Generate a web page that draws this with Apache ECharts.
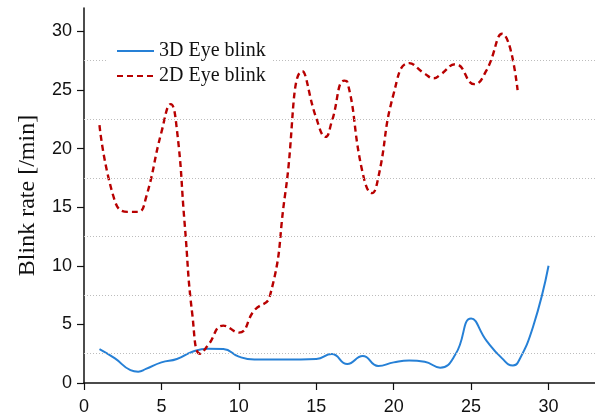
<!DOCTYPE html>
<html>
<head>
<meta charset="utf-8">
<script src="https://cdn.jsdelivr.net/npm/echarts@6/dist/echarts.min.js"></script>
<style>
  html, body { margin: 0; padding: 0; background: #fff; }
  #chart { width: 595px; height: 418px; }
</style>
</head>
<body>
<div id="chart"></div>
<script>
// Minutes of viewing (with the turning points of each curve)
const minutes3D = [1,2,3,3.5,4,5,6,7,8,9,10,11,12,13,14,15,16,17,18,19,20,21,22,23,24,25,26,27,27.7,28,29,30];
const minutes2D = [1,2,2.8,3.5,4,5,5.6,6,6.5,7,7.5,8,9,10,11,12,13,14.1,15,15.6,16,16.8,17,18,18.6,19,20,21,22,22.6,23,24,25.2,26,27,28];

// Blink rate per minute
const blink3D = [2.9,2.1,1.1,0.97,1.2,1.76,2.05,2.67,2.93,2.9,2.25,2.0,2.0,2.0,2.0,2.04,2.47,1.62,2.3,1.45,1.76,1.93,1.82,1.31,2.47,5.5,3.6,2.1,1.5,1.7,4.8,10];
const blink2D = [22.0,15.5,14.6,14.6,15.8,21.4,23.8,21.6,13.6,5.8,2.5,3.2,4.9,4.3,6.2,7.4,16.2,26.6,22.6,21.0,22.3,25.8,25.7,17.9,16.2,17.5,24.7,27.3,26.4,26.0,26.3,27.2,25.5,26.7,29.8,25.0];

// Axis ticks and dotted guide lines
const xTicks = [0,5,10,15,20,25,30];
const yTicks = [0,5,10,15,20,25,30];
const guideLines = [2.5,7.5,12.5,17.5,22.5,27.5];

const seriesNames = ['3D Eye blink', '2D Eye blink'];

const pairs = (xs, ys) => xs.map((x, i) => [x, ys[i]]);

const chart = echarts.init(document.getElementById('chart'), null, { renderer: 'canvas' });

const tickFont = { fontFamily: 'Liberation Sans, Arial, sans-serif', fontSize: 18, color: '#111' };
const serif = 'Liberation Serif, Times New Roman, serif';

chart.setOption({
  animation: false,
  backgroundColor: '#fff',
  grid: { left: 84, right: 0, top: 8, bottom: 35, containLabel: false },
  legend: {
    orient: 'vertical',
    left: 108,
    top: 38,
    itemWidth: 37,
    itemHeight: 12,
    itemGap: 5,
    padding: [3, 6, 3, 8],
    backgroundColor: '#fff',
    z: 10,
    data: seriesNames,
    itemStyle: { opacity: 0 },
    textStyle: { fontFamily: serif, fontSize: 20, color: '#111' }
  },
  xAxis: {
    type: 'value',
    min: 0,
    max: 33,
    interval: 5,
    axisLine: { show: true, onZero: false, lineStyle: { color: '#111', width: 1.5 } },
    axisTick: { show: true, length: 7, customValues: xTicks, lineStyle: { color: '#111', width: 1.2 } },
    axisLabel: Object.assign({ margin: 15, customValues: xTicks }, tickFont),
    splitLine: { show: false }
  },
  yAxis: {
    type: 'value',
    min: 0,
    max: 32,
    interval: 5,
    name: 'Blink rate [/min]',
    nameLocation: 'middle',
    nameGap: 44,
    nameTextStyle: { fontFamily: serif, fontSize: 24, color: '#111' },
    axisLine: { show: true, lineStyle: { color: '#111', width: 1.5 } },
    axisTick: { show: true, length: 7, customValues: yTicks, lineStyle: { color: '#111', width: 1.2 } },
    axisLabel: Object.assign({ margin: 12, customValues: yTicks }, tickFont),
    splitLine: { show: false }
  },
  series: [
    {
      name: seriesNames[0],
      type: 'line',
      data: pairs(minutes3D, blink3D),
      smooth: 0.5,
      symbol: 'none',
      lineStyle: { color: '#2680d6', width: 2 },
      itemStyle: { color: '#2680d6' },
      z: 3,
      markLine: {
        silent: true,
        symbol: 'none',
        label: { show: false },
        lineStyle: { type: [1, 2], color: '#bdbdbd', width: 1 },
        data: guideLines.map(v => ({ yAxis: v }))
      }
    },
    {
      name: seriesNames[1],
      type: 'line',
      data: pairs(minutes2D, blink2D),
      smooth: 0.5,
      symbol: 'none',
      lineStyle: { color: '#b80000', width: 2.4, type: [6, 4] },
      itemStyle: { color: '#b80000' },
      z: 4
    }
  ]
});
</script>
</body>
</html>
